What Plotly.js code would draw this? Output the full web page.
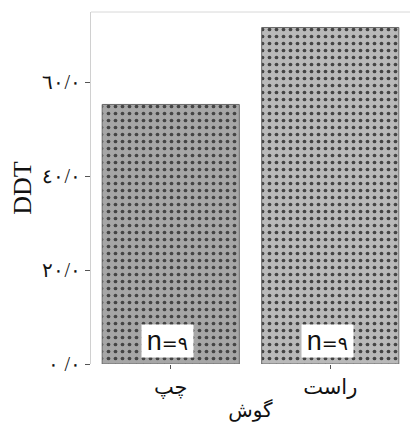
<!DOCTYPE html>
<html>
<head>
<meta charset="utf-8">
<script src="https://cdn.plot.ly/plotly-3.0.1.min.js"></script>
<style>html,body{margin:0;padding:0;background:#fff;}#chart{width:410px;height:429px;}</style>
</head>
<body>
<div id="chart"></div>
<script>
var categories = ['چپ', 'راست'];
var ddtValues = [55.3, 71.7];
var sampleLabels = ['n=٩', 'n=٩'];
var tickValues = [0, 20, 40, 60];
var tickLabels = ['\u202D٠ /٠\u202C', '٢٠/٠', '٤٠/٠', '٦٠/٠'];
var barBg = ['#a6a6a6', '#b9b9b9'];
var barDots = ['#333333', '#707070'];

var trace = {
  type: 'bar',
  x: categories,
  y: ddtValues,
  width: 0.86,
  marker: {
    color: barBg,
    line: {color: '#6a6a6a', width: 1},
    pattern: {shape: '.', fgcolor: barDots, fgopacity: 1, size: 7, solidity: 0.22, fillmode: 'overlay'}
  },
  hoverinfo: 'none'
};

var annotations = categories.map(function (c, i) {
  return {
    x: c, y: 0, xref: 'x', yref: 'y',
    yanchor: 'bottom', yshift: 6, xshift: -3,
    text: '\u2009<span style="font-family:Liberation Sans;font-size:27px">n</span>=' + sampleLabels[i].slice(2) + '\u2009',
    showarrow: false,
    bgcolor: '#ffffff',
    borderpad: 1,
    font: {family: 'DejaVu Sans', size: 19, color: '#111'}
  };
});

var layout = {
  width: 410, height: 429,
  margin: {l: 91, r: 0, t: 12, b: 65},
  paper_bgcolor: '#fff', plot_bgcolor: '#fff',
  showlegend: false,
  xaxis: {
    type: 'category',
    range: [-0.5, 1.5],
    showline: false, showgrid: false, zeroline: false,
    ticks: 'outside', ticklen: 4, tickcolor: '#555', tickwidth: 1,
    tickfont: {family: 'DejaVu Sans', size: 21, color: '#111'},
    title: {text: 'گوش', font: {family: 'DejaVu Sans', size: 20, color: '#111'}, standoff: 4}
  },
  yaxis: {
    range: [0, 75],
    tickvals: tickValues, ticktext: tickLabels,
    showline: true, linecolor: '#d0d0d0', linewidth: 1,
    showgrid: false, zeroline: false,
    ticks: 'outside', ticklen: 5, tickcolor: '#555', tickwidth: 1,
    tickfont: {family: 'Liberation Serif', size: 20, color: '#111'},
    title: {text: 'DDT', font: {family: 'Liberation Serif', size: 26, color: '#111'}, standoff: 3}
  },
  shapes: [
    {type: 'line', xref: 'paper', yref: 'paper', x0: 0, x1: 1, y0: 1, y1: 1, line: {color: '#d8d8d8', width: 1}}
  ],
  annotations: annotations
};

Plotly.newPlot('chart', [trace], layout, {staticPlot: true, displayModeBar: false});
</script>
</body>
</html>
